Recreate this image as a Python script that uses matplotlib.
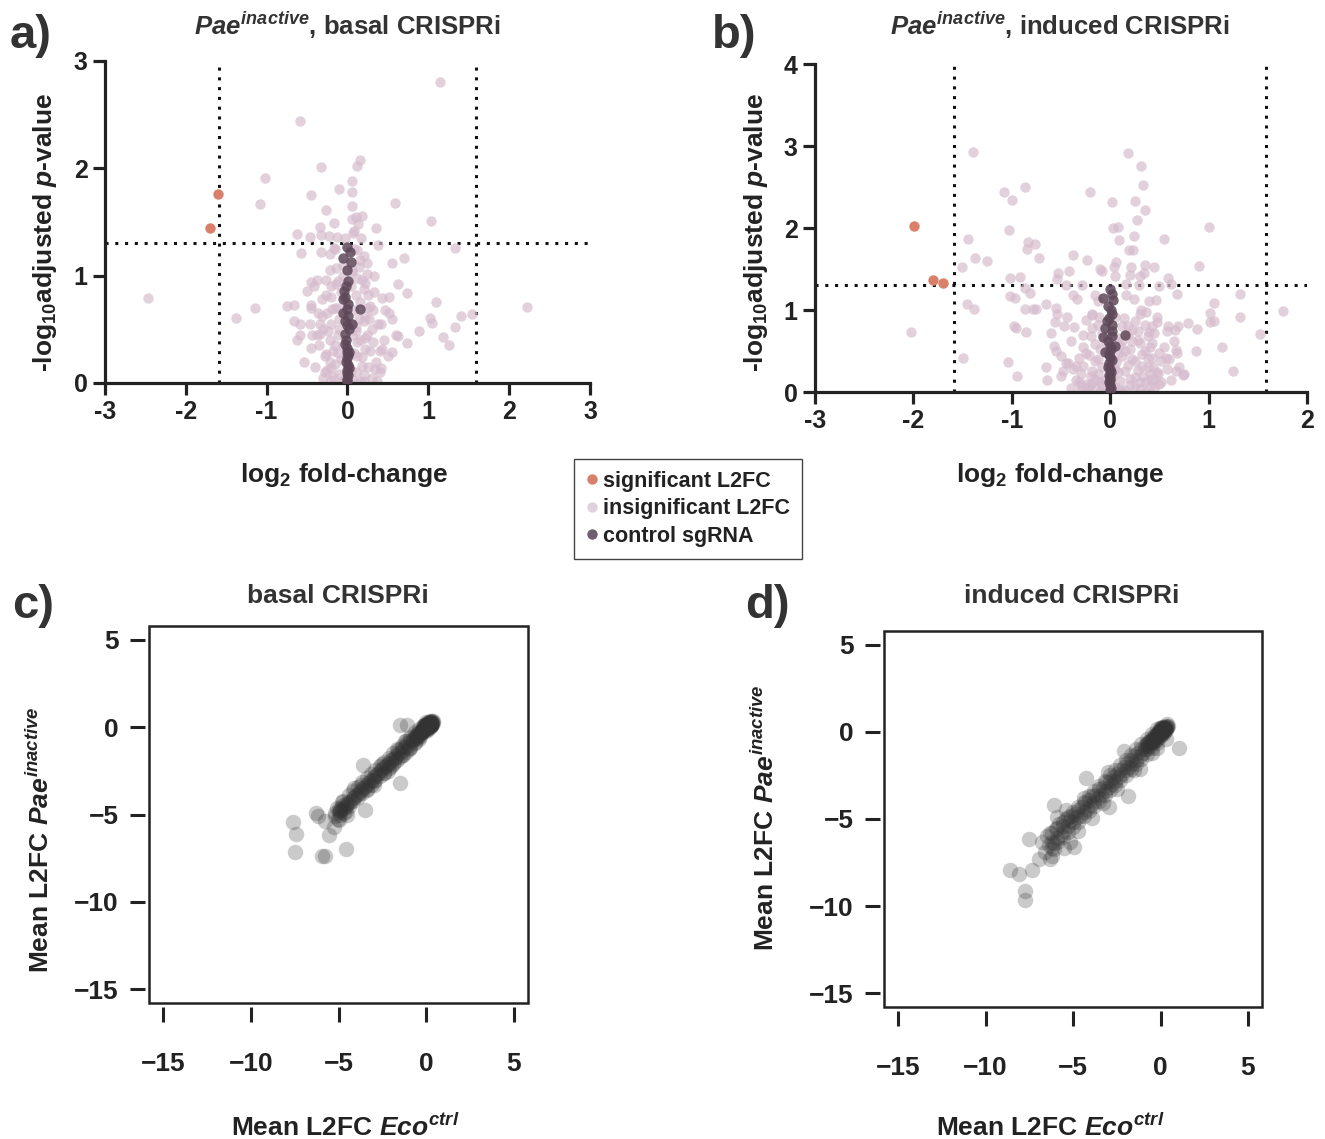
import matplotlib
matplotlib.use("Agg")
import matplotlib.pyplot as plt
from matplotlib.lines import Line2D
from matplotlib.patches import Rectangle

plt.rcParams["font.family"] = "Liberation Sans"
plt.rcParams["font.weight"] = "bold"
plt.rcParams["mathtext.fontset"] = "custom"
plt.rcParams["mathtext.rm"] = "Liberation Sans:bold"
plt.rcParams["mathtext.it"] = "Liberation Sans:italic:bold"
plt.rcParams["mathtext.bf"] = "Liberation Sans:bold"
plt.rcParams["axes.unicode_minus"] = False

# ---------------- data ----------------
# panel a: Pae inactive, basal CRISPRi
a_sig_x = [-1.60, -1.70]
a_sig_y = [1.76, 1.44]
a_ctrl_x = [-0.01, 0.03, -0.06, 0.04, 0.01, -0.04, -0.03, -0.06, -0.01, 0.15, -0.06, 0.01,
            -0.01, 0.05, -0.03, -0.02, -0.03, -0.01, 0.02, 0.00, 0.01, -0.01, 0.01, 0.00,
            0.00, -0.02, 0.01, -0.03, 0.02, -0.01, 0.01, -0.02, 0.02, 0.00, -0.01]
a_ctrl_y = [1.27, 1.22, 1.16, 1.13, 0.95, 0.86, 0.80, 0.78, 0.69, 0.69, 0.65, 0.62,
            0.54, 0.55, 0.46, 0.40, 0.36, 0.29, 0.29, 0.23, 0.17, 0.12, 0.07, 0.02,
            1.05, 0.90, 0.74, 0.58, 0.50, 0.33, 0.26, 0.20, 0.14, 0.09, 0.04]
a_ins_x = [1.15, -0.59, 0.15, 0.12, -0.33, -1.02, 0.05, -0.11, 0.05, -0.45, -1.08, 0.59,
           0.06, -0.27, 0.05, 0.11, 0.18, 1.03, -0.17, -0.34, 0.35, 0.08, 0.13, -0.63,
           -0.46, -0.33, -0.23, -0.13, -0.03, 0.17, 0.07, 1.33, 0.38, -0.57, -0.33, -0.22,
           -0.17, 0.12, 0.20, 0.24, 0.55, 0.70, -0.14, 0.06, 0.18, 0.22, 0.33, -0.26,
           -0.45, -0.38, -0.50, 0.63, 0.74, -2.47, 2.22, 1.10, -1.15, -1.38, -0.75, -0.66,
           -0.45, -0.19, 0.25, 0.43, 0.51, 0.47, 0.51, 1.02, 1.04, 1.41, 1.54, 1.33,
           1.18, 1.25, 0.88, 0.62, 0.73, 0.55, 0.43, -0.66, -0.59, -0.46, -0.34, -0.37,
           -0.62, -0.59, -0.44, -0.34, -0.45, -0.54, -0.27, -0.20, 0.34, 0.41,
           -0.30, -0.25, -0.20, -0.15, -0.10, -0.05, 0.05, 0.10, 0.15, 0.20, 0.25, 0.30,
           -0.28, -0.18, -0.08, 0.08, 0.18, 0.28, 0.35, -0.35, -0.22, -0.12, 0.12, 0.22,
           0.32, 0.40, -0.30, -0.20, -0.10, 0.10, 0.20, 0.30, 0.38, -0.25, -0.15, 0.08,
           0.15, 0.25, -0.20, -0.08, 0.10, 0.20, -0.12, 0.12, 0.05, -0.05, 0.15, 0.08,
           -0.15, 0.45, 0.50, -0.40, 0.40, -0.05, 0.05, -0.02, 0.04, 0.02, -0.12, 0.14,
           -0.32, 0.33, 0.24, -0.22, 0.55, 0.60, -0.45, 0.12, -0.08, 0.22,
           -0.28, -0.22, -0.16, -0.10, -0.04, 0.04, 0.10, 0.16, 0.22, 0.28, -0.26, -0.14,
           0.14, 0.26, -0.20, 0.20, -0.32, 0.32, -0.06, 0.06, -0.24, 0.24, -0.18, 0.18,
           -0.12, 0.12, 0.36, -0.38, 0.42, -0.42]
a_ins_y = [2.80, 2.44, 2.08, 2.02, 2.01, 1.91, 1.88, 1.81, 1.78, 1.75, 1.67, 1.68,
           1.65, 1.61, 1.53, 1.55, 1.56, 1.51, 1.49, 1.45, 1.44, 1.42, 1.48, 1.39,
           1.36, 1.38, 1.37, 1.36, 1.35, 1.35, 1.40, 1.26, 1.29, 1.21, 1.22, 1.20,
           1.26, 1.24, 1.18, 1.12, 1.12, 1.16, 1.07, 1.03, 0.96, 0.93, 1.00, 0.96,
           0.94, 0.96, 0.86, 0.92, 0.84, 0.79, 0.71, 0.75, 0.70, 0.61, 0.72, 0.73,
           0.73, 0.69, 0.82, 0.79, 0.80, 0.68, 0.65, 0.61, 0.56, 0.62, 0.64, 0.52,
           0.43, 0.35, 0.48, 0.44, 0.37, 0.29, 0.32, 0.58, 0.55, 0.55, 0.55, 0.65,
           0.40, 0.45, 0.45, 0.46, 0.33, 0.20, 0.27, 0.14, 0.13, 0.14,
           0.05, 0.12, 0.03, 0.18, 0.08, 0.02, 0.04, 0.10, 0.02, 0.07, 0.15, 0.05,
           0.25, 0.30, 0.22, 0.28, 0.24, 0.30, 0.20, 0.35, 0.40, 0.45, 0.38, 0.42,
           0.38, 0.30, 0.50, 0.55, 0.60, 0.52, 0.58, 0.50, 0.55, 0.65, 0.70, 0.68,
           0.75, 0.70, 0.80, 0.85, 0.82, 0.88, 0.95, 0.98, 1.05, 1.10, 1.15, 1.25,
           1.25, 0.40, 0.25, 0.15, 0.10, 0.35, 0.45, 0.75, 0.90, 0.15, 0.28, 0.60,
           0.78, 0.85, 1.02, 1.05, 0.60, 0.45, 0.70, 0.00, 0.00, 0.32,
           0.10, 0.20, 0.35, 0.50, 0.62, 0.12, 0.48, 0.40, 0.62, 0.72, 0.82, 0.92,
           1.08, 0.60, 0.90, 0.02, 0.62, 0.68, 1.00, 0.55, 0.48, 0.45, 0.06, 0.16,
           0.70, 0.25, 0.02, 0.45, 0.55, 0.90]

# panel b: Pae inactive, induced CRISPRi
b_sig_x = [-1.99, -1.80, -1.70]
b_sig_y = [2.03, 1.37, 1.33]
b_ctrl_x = [0.00, 0.02, -0.07, 0.03, 0.02, -0.03, -0.05, 0.02, -0.07, 0.02, 0.15, 0.00,
            0.05, -0.05, 0.00, -0.01, 0.00, -0.01, 0.00, 0.00, 0.00,
            -0.02, 0.01, -0.01, 0.02, -0.02, 0.01, -0.01, 0.02, -0.02, 0.01, 0.00, -0.01, 0.01]
b_ctrl_y = [1.26, 1.20, 1.15, 1.12, 0.95, 0.87, 0.78, 0.82, 0.67, 0.68, 0.69, 0.56,
            0.56, 0.49, 0.43, 0.35, 0.28, 0.21, 0.15, 0.09, 0.02,
            1.05, 1.00, 0.90, 0.74, 0.62, 0.52, 0.46, 0.39, 0.31, 0.25, 0.18, 0.12, 0.05]
b_ins_x = [-2.02, -1.39, 0.18, 0.31, 0.33, -0.87, -1.08, -1.00, -0.21, 0.02, 0.25, 0.35,
           0.27, 0.03, 0.08, 1.00, -1.03, -1.45, -0.84, -0.76, -0.85, -0.72, 0.09, 0.24,
           0.55, 0.19, 0.23, -0.38, -0.24, -1.37, -1.25, -1.51, 0.90, 0.06, 0.04, 0.21,
           0.35, 0.45, -0.10, -0.08, -0.53, -0.42, 0.20, 0.30, 0.34, -1.02, -0.92, -0.54,
           -0.45, -0.29, 0.05, 0.59, 0.62, 0.16, 0.29, 0.50, -0.87, -0.82, 0.68, 1.32,
           -1.02, -0.97, -0.38, -0.34, -0.15, -0.12, -1.46, -1.38, -0.87, -0.78, -0.75, -0.65,
           -0.55, 1.05, 1.76, 0.16, 0.24, 0.39, 0.47, 0.31, 0.36, 1.01, 1.05, 1.01,
           1.32, -0.54, -0.44, -0.56, -0.47, -0.37, -0.98, -0.96, -0.86, -0.18, -0.11, 0.79,
           0.88, 0.59, 0.66, 0.69, 0.48, 0.42, 0.39, 1.52, 1.14, 0.87, 0.67, 0.57,
           -0.57, -0.50, -1.50, -1.04, -0.95, -0.64, 1.25, 0.67, 0.74, -0.48, -0.43, 0.49, 0.41,
           -0.40, -0.35, -0.30, -0.25, -0.20, -0.15, -0.10, -0.05, 0.05, 0.10, 0.15, 0.20,
           0.25, 0.30, 0.35, 0.40, 0.45, -0.38, -0.28, -0.18, -0.08, 0.08, 0.18, 0.28,
           0.38, 0.48, -0.32, -0.22, -0.12, 0.12, 0.22, 0.32, 0.42, 0.52, -0.28, -0.15,
           0.10, 0.20, 0.30, 0.40, -0.20, -0.08, 0.08, 0.18, 0.28, 0.38, -0.12, 0.12,
           0.25, 0.35, -0.25, 0.05, 0.45, 0.55, 0.60, 0.50, -0.45, -0.50, 0.02, -0.02,
           0.06, 0.15, -0.15, 0.25, -0.30, 0.33, 0.43, 0.22, -0.05, 0.14, -0.18, 0.30,
           0.65, 0.70, -0.55, 0.58, -0.10, 0.12, 0.35, -0.25,
           -0.35, -0.30, -0.25, -0.20, -0.15, -0.10, -0.05, 0.05, 0.10, 0.15, 0.20, 0.25,
           0.30, 0.35, 0.40, 0.45, 0.50, -0.40, -0.22, -0.12, 0.12, 0.22, 0.32, 0.42,
           0.52, 0.58, -0.32, 0.28, -0.08, 0.08, 0.18, 0.38, -0.18, 0.48, -0.28, 0.62,
           0.68, 0.75, -0.60, -0.65]
b_ins_y = [0.73, 2.93, 2.91, 2.76, 2.52, 2.50, 2.44, 2.34, 2.44, 2.32, 2.33, 2.22,
           2.10, 2.00, 2.01, 2.01, 1.98, 1.86, 1.83, 1.80, 1.75, 1.64, 1.85, 1.90,
           1.87, 1.73, 1.73, 1.67, 1.61, 1.63, 1.60, 1.52, 1.54, 1.59, 1.53, 1.53,
           1.55, 1.53, 1.50, 1.48, 1.45, 1.47, 1.43, 1.42, 1.45, 1.39, 1.40, 1.38,
           1.31, 1.31, 1.41, 1.39, 1.32, 1.32, 1.31, 1.29, 1.27, 1.21, 1.19, 1.20,
           1.17, 1.15, 1.18, 1.14, 1.18, 1.11, 1.07, 1.01, 1.01, 1.01, 1.01, 1.07,
           1.03, 1.08, 0.99, 1.18, 1.14, 1.11, 1.12, 1.00, 0.98, 0.96, 0.86, 0.85,
           0.91, 0.95, 0.91, 0.85, 0.81, 0.79, 0.81, 0.78, 0.73, 0.94, 0.91, 0.84,
           0.77, 0.81, 0.76, 0.81, 0.85, 0.80, 0.73, 0.71, 0.55, 0.50, 0.51, 0.41,
           0.56, 0.44, 0.41, 0.36, 0.19, 0.15, 0.26, 0.26, 0.21, 0.26, 0.35, 0.22, 0.16,
           0.05, 0.15, 0.02, 0.10, 0.20, 0.05, 0.12, 0.03, 0.06, 0.14, 0.02, 0.09,
           0.18, 0.04, 0.12, 0.07, 0.16, 0.28, 0.32, 0.26, 0.30, 0.24, 0.33, 0.27,
           0.31, 0.25, 0.42, 0.45, 0.40, 0.44, 0.40, 0.46, 0.42, 0.38, 0.55, 0.58,
           0.56, 0.52, 0.60, 0.55, 0.68, 0.72, 0.66, 0.70, 0.74, 0.68, 0.82, 0.80,
           0.86, 0.82, 0.88, 0.92, 0.72, 0.55, 0.40, 0.10, 0.35, 0.20, 0.18, 0.48,
           0.36, 0.26, 0.16, 0.06, 0.22, 0.20, 0.30, 0.62, 0.62, 0.90, 0.95, 0.95,
           0.62, 0.30, 0.50, 0.75, 0.00, 0.00, 0.00, 0.00,
           0.32, 0.08, 0.48, 0.10, 0.38, 0.52, 0.15, 0.28, 0.02, 0.50, 0.16, 0.38,
           0.12, 0.50, 0.22, 0.05, 0.48, 0.62, 0.06, 0.22, 0.62, 0.76, 0.32, 0.60,
           0.12, 0.28, 0.12, 0.64, 0.08, 0.48, 0.80, 0.42, 0.78, 0.92, 0.70, 0.15,
           0.48, 0.22, 0.72, 0.30]

# panel c: basal CRISPRi, mean L2FC Eco ctrl vs Pae inactive
c_x = [0.3, 0.2, 0.1, 0.25, 0.0, -0.1, 0.15, 0.35, 0.05, -0.2, 0.3, 0.2, -0.05, 0.1, -0.3,
       0.25, 0.4, 0.0, -0.15, 0.1, 0.2, -0.4, -0.25, -0.5, -0.35, -0.6, -0.45, -0.7, -0.55,
       -0.8, -0.9, -0.65, 0.3, 0.15, -0.1, 0.05, 0.35, 0.0, -0.2, 0.25,
       0.0, 0.1, -0.05, 0.2, 0.05, -0.15, 0.25, 0.15, -0.1, 0.3, 0.0, 0.1, 0.2, -0.3,
       -1.0, -1.1, -1.2, -1.3, -1.0, -1.4, -1.5, -1.6, -1.5, -1.7, -1.8, -1.9, -2.0, -1.85,
       -2.1, -2.2, -2.3, -2.0, -2.4, -2.5, -2.6, -2.4, -2.7, -2.8, -2.9, -3.0, -3.1, -2.95,
       -3.2, -3.3, -3.4, -3.5, -3.6, -3.4, -3.7, -3.8, -3.9, -4.0, -4.1, -4.2, -4.3, -4.4,
       -4.5, -4.6, -4.7, -4.8, -4.9, -5.0, -4.8, -4.6, -5.1, -4.9, -5.2, -5.0, -4.5, -1.6,
       -2.5, -1.3, -3.7, -3.0, -2.2, -0.9, -1.2,
       -7.61, -7.41, -7.47, -5.95, -5.79, -4.57, -6.29, -6.15, -5.75, -5.54, -5.24, -5.04,
       -1.52, -1.08, -1.52, -3.61, -3.51, -4.12, -4.73, -4.93,
       -4.4, -4.15, -3.9, -3.65, -3.4, -3.15, -2.9, -2.65, -2.4, -2.15, -1.9, -1.65, -1.4,
       -1.15, -0.9, -0.65, -0.4,
       -4.4, -4.15, -3.9, -3.65, -3.4, -3.15, -2.9, -2.65, -2.4, -2.15, -1.9, -1.65, -1.4,
       -1.15, -0.9, -0.65, -0.4,
       -0.35, -0.25, -0.15, -0.05, 0.05, 0.15, 0.25, 0.35, -0.3, -0.2, -0.1, 0.0, 0.1, 0.2,
       0.3, 0.4, -0.45, -0.6, -0.75, -0.5,
       -4.8, -5.0, -4.7, -5.2, -4.6]
c_y = [0.3, 0.25, 0.2, 0.1, 0.1, 0.0, 0.05, 0.2, -0.05, -0.1, 0.15, 0.35, 0.15, -0.1, -0.2,
       0.3, 0.25, 0.3, 0.1, 0.15, 0.0, -0.35, -0.3, -0.4, -0.5, -0.55, -0.6, -0.65, -0.45,
       -0.8, -0.75, -0.85, 0.05, 0.3, -0.2, 0.25, 0.35, -0.2, 0.05, 0.2,
       0.0, 0.05, -0.05, 0.15, 0.2, -0.15, 0.25, 0.1, 0.05, 0.1, -0.1, -0.05, 0.3, -0.3,
       -1.0, -0.9, -1.15, -1.3, -1.25, -1.2, -1.45, -1.5, -1.7, -1.65, -1.75, -1.8, -1.85, -2.0,
       -2.05, -2.1, -2.2, -2.2, -2.3, -2.4, -2.45, -2.6, -2.6, -2.7, -2.8, -2.85, -3.0, -3.1,
       -3.1, -3.2, -3.3, -3.4, -3.5, -3.6, -3.6, -3.7, -3.8, -3.9, -4.0, -4.05, -4.2, -4.3,
       -4.4, -4.5, -4.6, -4.7, -4.8, -4.9, -4.3, -4.8, -4.6, -5.0, -5.1, -5.3, -5.0, -1.3,
       -2.1, -1.6, -3.3, -3.3, -2.5, -1.2, -0.8,
       -5.43, -6.09, -7.13, -7.40, -7.40, -6.98, -4.89, -5.06, -5.37, -6.20, -5.72, -5.26,
       0.12, 0.12, -3.19, -2.16, -4.75, -3.50, -4.23, -4.75,
       -3.9, -3.65, -3.4, -3.15, -2.9, -2.7, -2.45, -2.2, -2.0, -1.75, -1.5, -1.25, -1.05,
       -0.8, -0.55, -0.3, -0.1,
       -4.5, -4.25, -4.0, -3.75, -3.55, -3.3, -3.05, -2.8, -2.6, -2.35, -2.1, -1.85, -1.6,
       -1.4, -1.15, -0.9, -0.7,
       -0.25, -0.3, -0.1, 0.0, 0.1, 0.2, 0.15, 0.3, -0.35, -0.15, -0.05, 0.05, 0.2, 0.1,
       0.25, 0.35, -0.5, -0.5, -0.7, -0.55,
       -4.5, -4.7, -4.9, -4.9, -4.4]

# panel d: induced CRISPRi
d_x = [-8.58, -8.09, -7.72, -7.72, -7.35, -7.50, -6.96, -6.31, -6.21, -6.10, -5.51, -4.95,
       -4.26, -3.94, -4.69, 1.04, -1.88, -2.96, -2.10, 0.39,
       -6.8, -6.6, -6.5, -6.4, -6.3, -6.2, -6.1, -6.0, -5.9, -5.8, -5.7, -5.6, -5.5, -5.4,
       -5.3, -5.2, -5.1, -5.0, -4.9, -4.8, -4.7, -4.6, -4.5, -4.4, -4.3, -4.2, -4.1, -4.0,
       -3.9, -3.8, -3.7, -3.6, -3.5, -3.4, -3.3, -3.2, -3.1, -3.0, -2.9, -2.8, -2.7, -2.6,
       -2.5, -2.4, -2.3, -2.2, -2.1, -2.0, -1.9, -1.8, -1.7, -1.6, -1.5, -1.4, -1.3, -1.2,
       -1.1, -1.0, -0.9, -0.8, -0.7, -0.6, -0.5, -0.4, -0.3, -0.2, -0.1, 0.0, 0.1, 0.2,
       0.3, 0.1, 0.0, -0.2, 0.2, 0.35, -0.1, 0.15, -0.3, 0.25, -0.05, 0.3, -1.5, -2.5,
       -3.3, -4.4, -1.2, -0.5, -0.2, 0.3, -5.9, -5.2, -6.1, -3.0, -5.4,
       0.0, 0.1, -0.05, 0.2, 0.05, -0.15, 0.25, 0.15, -0.1, 0.3, 0.0, 0.1, 0.2, -0.3,
       -0.4, -0.5, -0.6, -0.7, -0.8, -0.9,
       -6.2, -5.9, -5.6, -5.3, -5.0, -4.7, -4.4, -4.1, -3.8, -3.5, -3.2, -2.9, -2.6, -2.3,
       -2.0, -1.7, -1.4, -1.1, -0.8, -0.5, -0.2,
       -6.2, -5.9, -5.6, -5.3, -5.0, -4.7, -4.4, -4.1, -3.8, -3.5, -3.2, -2.9, -2.6, -2.3,
       -2.0, -1.7, -1.4, -1.1, -0.8, -0.5, -0.2,
       -0.35, -0.25, -0.15, -0.05, 0.05, 0.15, 0.25, 0.35, -0.3, -0.2, -0.1, 0.0, 0.1, 0.2,
       0.3, 0.4, -0.45, -0.6, -0.75, -0.5]
d_y = [-7.93, -8.18, -9.14, -9.66, -7.93, -6.17, -7.31, -7.31, -7.10, -4.20, -6.69, -6.63,
       -2.64, -4.92, -5.69, -0.91, -3.68, -4.30, -1.08, 0.48,
       -6.3, -6.9, -6.0, -6.5, -5.8, -6.3, -6.7, -5.6, -6.1, -5.3, -5.9, -5.4, -5.7, -5.0,
       -5.4, -5.1, -4.8, -5.2, -4.7, -4.9, -4.5, -4.8, -4.3, -4.6, -4.1, -4.4, -3.9, -4.2,
       -3.7, -4.0, -3.6, -3.8, -3.3, -3.6, -3.2, -3.4, -2.9, -3.2, -2.8, -3.0, -2.6, -2.8,
       -2.4, -2.6, -2.2, -2.4, -2.0, -2.2, -1.8, -2.0, -1.6, -1.8, -1.4, -1.6, -1.2, -1.4,
       -1.0, -1.2, -0.8, -1.0, -0.6, -0.8, -0.4, -0.6, -0.2, -0.4, 0.0, -0.2, 0.1, 0.0,
       0.2, 0.3, 0.1, -0.1, 0.25, 0.3, -0.3, -0.1, -0.5, 0.1, 0.2, 0.35, -2.2, -3.3,
       -4.1, -3.8, -2.1, -1.2, -0.9, -0.4, -4.9, -6.3, -6.4, -2.3, -4.5,
       0.0, 0.05, -0.05, 0.15, 0.2, -0.15, 0.25, 0.1, 0.05, 0.1, -0.1, -0.05, 0.3, -0.3,
       -0.4, -0.6, -0.5, -0.8, -0.7, -1.0,
       -5.8, -5.5, -5.2, -4.9, -4.6, -4.3, -4.0, -3.7, -3.4, -3.1, -2.8, -2.5, -2.2, -1.9,
       -1.6, -1.3, -1.0, -0.7, -0.4, -0.1, 0.15,
       -6.65, -6.35, -6.05, -5.75, -5.45, -5.15, -4.85, -4.55, -4.25, -3.95, -3.65, -3.35,
       -3.05, -2.75, -2.45, -2.15, -1.85, -1.55, -1.25, -0.95, -0.65,
       -0.25, -0.3, -0.1, 0.0, 0.1, 0.2, 0.15, 0.3, -0.35, -0.15, -0.05, 0.05, 0.2, 0.1,
       0.25, 0.35, -0.5, -0.5, -0.7, -0.55]

volcano_xticks_a = [-3, -2, -1, 0, 1, 2, 3]
volcano_xticks_b = [-3, -2, -1, 0, 1, 2]
volcano_yticks_a = [0, 1, 2, 3]
volcano_yticks_b = [0, 1, 2, 3, 4]
l2fc_ticks = [-15, -10, -5, 0, 5]
l2fc_labels = ["\u221215", "\u221210", "\u22125", "0", "5"]
legend_labels = ["significant L2FC", "insignificant L2FC", "control sgRNA"]

SIG = "#d9806a"
INS = "#d6bccd"
CTRL = "#5e4858"
INK = "#222222"
TXT = "#333333"

W, H = 1325, 1139
fig = plt.figure(figsize=(W / 100, H / 100), dpi=100)


def rect(l, t, r, b):
    return [l / W, 1 - b / H, (r - l) / W, (b - t) / H]


def ftext(x, y, s, **kw):
    fig.text(x / W, 1 - y / H, s, **kw)


def volcano(ax, ins_x, ins_y, ctrl_x, ctrl_y, sig_x, sig_y, xticks, yticks):
    ax.scatter(ins_x, ins_y, s=56, color=INS, alpha=0.7, lw=0, zorder=2)
    ax.scatter(ctrl_x, ctrl_y, s=56, color=CTRL, alpha=0.85, lw=0, zorder=3)
    ax.scatter(sig_x, sig_y, s=56, color=SIG, lw=0, zorder=3)
    for v in (-1.585, 1.585):
        ax.axvline(v, color="#111111", lw=2.2, ls=(0, (1, 2.2)), zorder=1)
    ax.axhline(1.301, color="#111111", lw=2.2, ls=(0, (1, 2.2)), zorder=1)
    ax.set_xlim(xticks[0], xticks[-1])
    ax.set_ylim(yticks[0], yticks[-1])
    ax.set_xticks(xticks)
    ax.set_yticks(yticks)
    ax.set_xticklabels([str(t) for t in xticks])
    ax.set_yticklabels([str(t) for t in yticks])
    for side in ("top", "right"):
        ax.spines[side].set_visible(False)
    for side in ("left", "bottom"):
        ax.spines[side].set_linewidth(2.3)
        ax.spines[side].set_color(INK)
    ax.tick_params(direction="out", length=8.5, width=2.3, color=INK,
                   labelsize=18, labelcolor=INK, pad=4)
    for lab in ax.get_xticklabels() + ax.get_yticklabels():
        lab.set_fontweight("bold")


def l2fc(ax, x, y):
    ax.scatter(x, y, s=125, color="#333333", alpha=0.26, lw=0)
    ax.set_xlim(-15.8, 5.8)
    ax.set_ylim(-15.8, 5.8)
    ax.set_xticks(l2fc_ticks)
    ax.set_yticks(l2fc_ticks)
    ax.set_xticklabels(l2fc_labels)
    ax.set_yticklabels(l2fc_labels)
    # R style: box drawn separately, ticks sit a little outside it
    for side in ("left", "bottom"):
        ax.spines[side].set_position(("outward", 3))
        ax.spines[side].set_color("none")
    for side in ("top", "right"):
        ax.spines[side].set_visible(False)
    ax.add_patch(Rectangle((0, 0), 1, 1, transform=ax.transAxes, fill=False,
                           lw=1.8, edgecolor=INK, clip_on=False, zorder=5))
    ax.tick_params(direction="out", length=11, width=2.2, color=INK,
                   labelsize=19, labelcolor=INK)
    ax.tick_params(axis="x", pad=21)
    ax.tick_params(axis="y", pad=8)


ax_a = fig.add_axes(rect(105, 61, 590, 383))
volcano(ax_a, a_ins_x, a_ins_y, a_ctrl_x, a_ctrl_y, a_sig_x, a_sig_y,
        volcano_xticks_a, volcano_yticks_a)
ax_b = fig.add_axes(rect(815, 64, 1307, 392))
volcano(ax_b, b_ins_x, b_ins_y, b_ctrl_x, b_ctrl_y, b_sig_x, b_sig_y,
        volcano_xticks_b, volcano_yticks_b)

ax_c = fig.add_axes(rect(149, 626, 528, 1003))
l2fc(ax_c, c_x, c_y)
ax_d = fig.add_axes(rect(884, 631, 1262, 1007))
l2fc(ax_d, d_x, d_y)

# panel letters
for x, y, s in [(10, 36, "a)"), (712, 36, "b)"), (12, 606, "c)"), (745, 606, "d)")]:
    ftext(x, y, s, fontsize=34, color=TXT, ha="left", va="center")

# titles
ftext(347, 25, r"$Pae^{inactive}$, basal CRISPRi", fontsize=18.5, color=TXT, ha="center", va="center")
ftext(1060, 25, r"$Pae^{inactive}$, induced CRISPRi", fontsize=18.5, color=TXT, ha="center", va="center")
ftext(338, 596, "basal CRISPRi", fontsize=19, color=TXT, ha="center", va="center")
ftext(1072, 596, "induced CRISPRi", fontsize=19, color=TXT, ha="center", va="center")

# axis labels
ftext(344, 475, r"log$_{2}$ fold-change", fontsize=19, color=INK, ha="center", va="center")
ftext(1060, 475, r"log$_{2}$ fold-change", fontsize=19, color=INK, ha="center", va="center")
ftext(45, 232, r"-log$_{10}$adjusted $p$-value", fontsize=19, color=INK, ha="center",
      va="center", rotation=90)
ftext(756, 232, r"-log$_{10}$adjusted $p$-value", fontsize=19, color=INK, ha="center",
      va="center", rotation=90)
ftext(345, 1127, r"Mean L2FC $Eco^{ctrl}$", fontsize=19, color=INK, ha="center", va="center")
ftext(1050, 1127, r"Mean L2FC $Eco^{ctrl}$", fontsize=19, color=INK, ha="center", va="center")
ftext(40, 840, r"Mean L2FC $Pae^{inactive}$", fontsize=19, color=INK, ha="center",
      va="center", rotation=90)
ftext(765, 818, r"Mean L2FC $Pae^{inactive}$", fontsize=19, color=INK, ha="center",
      va="center", rotation=90)

# shared legend
handles = [Line2D([], [], ls="none", marker="o", ms=7.5, mfc=c, mec="none")
           for c in (SIG, "#e2d2dd", "#6f5e6c")]
leg = fig.legend(handles, legend_labels, loc="upper left",
                 bbox_to_anchor=(574 / W, 1 - 459 / H), frameon=True, fancybox=False,
                 edgecolor="#444444", framealpha=1, fontsize=15.5, handlelength=0.6,
                 handletextpad=0.2, labelspacing=0.3, borderpad=0.55, borderaxespad=0)
leg.get_frame().set_linewidth(1.0)
for t in leg.get_texts():
    t.set_fontweight("bold")
    t.set_color(INK)

fig.savefig("out.png", dpi=100)
